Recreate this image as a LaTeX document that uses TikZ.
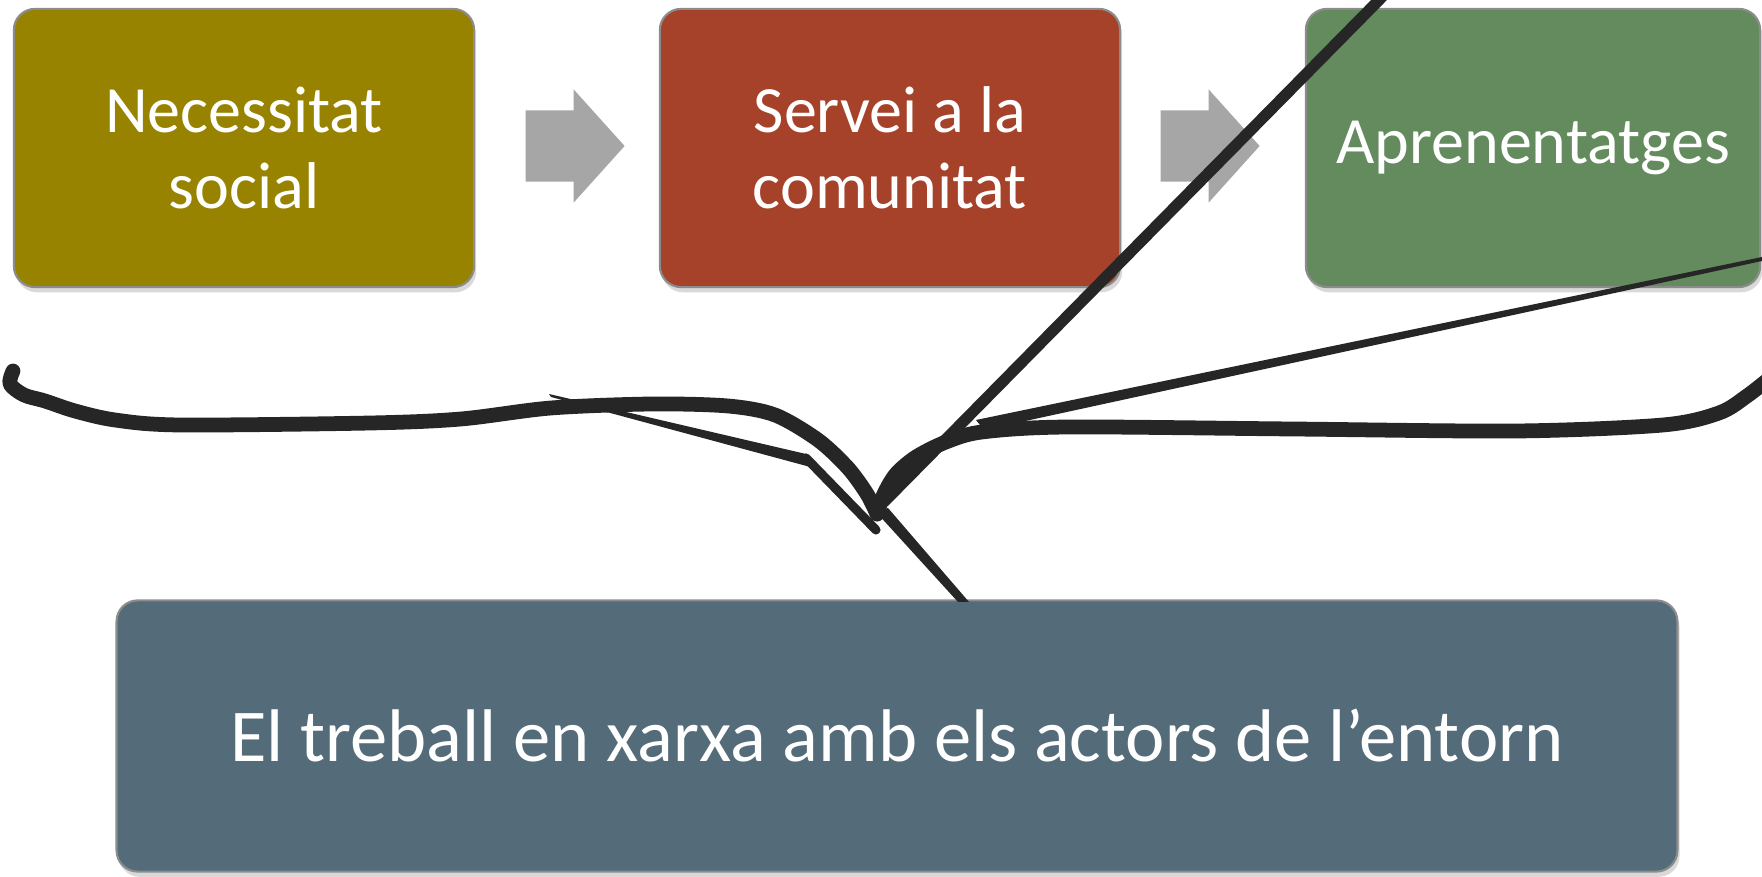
\documentclass[tikz,border=0pt]{standalone}
\usepackage{fontspec}
\setmainfont{Carlito}
\usetikzlibrary{shapes.arrows,shadows}
\definecolor{boxolive}{RGB}{152,131,0}
\definecolor{boxrust}{RGB}{166,66,42}
\definecolor{boxgreen}{RGB}{99,139,94}
\definecolor{boxslate}{RGB}{84,108,121}
\definecolor{arrowgray}{RGB}{166,166,166}
\definecolor{penblack}{RGB}{38,38,38}
\tikzset{
  stepbox/.style={draw=black!45, line width=0.6pt, rounded corners=6pt, text=white, align=center,
    minimum width=4.6cm, minimum height=2.78cm, font=\fontsize{18.8}{21.5}\selectfont,
    drop shadow={shadow xshift=0.6pt, shadow yshift=-1.5pt, opacity=0.3}},
  flowarrow/.style={single arrow, fill=arrowgray, draw=none, minimum height=0.99cm, minimum width=1.12cm,
    single arrow head extend=0.21cm, single arrow tip angle=96, inner xsep=0pt, inner ysep=0.35cm},
  pen/.style={penblack, line cap=round, line join=round}
}

\begin{document}
\begin{tikzpicture}[x=0.01cm, y=-0.01cm]
  \useasboundingbox (0,0) rectangle (1762,877);

  %% Steps
  \node[stepbox, fill=boxolive]                      (need)   at (244,148)  {Necessitat\\social};
  \node[stepbox, fill=boxrust]                       (serve)  at (890,148)  {Servei a la\\comunitat};
  \node[stepbox, fill=boxgreen, minimum width=4.54cm] (learn) at (1533,148) {Aprenentatges};

  %% Flow arrows
  \node[flowarrow] (arrowA) at (559,146)  {};
  \node[flowarrow] (arrowB) at (1194,146) {};

  %% Network box
  \node[stepbox, fill=boxslate, minimum width=15.6cm, minimum height=2.71cm, font=\fontsize{21.2}{25}\selectfont] (network) at (897,736) {El treball en xarxa amb els actors de l’entorn};

  %% Hand-drawn brace
  \draw[pen, line width=4.2pt] plot[smooth, tension=0.5] coordinates {
    (13,371) (10,384) (24,395) (45,401) (75,411) (115,420) (180,425) (371,423) (461,419)
    (551,408) (652,404) (728,406) (775,415) (818,440) (848,468) (867,494) (877,514)};
  \draw[pen, line width=4.2pt] plot[smooth, tension=0.5] coordinates {
    (877,514) (884,494) (896,474) (916,457) (946,442) (982,432) (1068,427) (1292,429)
    (1517,431) (1663,425) (1719,413) (1747,396) (1770,378)};

  %% Hand-drawn strokes
  \draw[pen, line width=3.2pt] (1384,-5) -- (884,502);
  \fill[penblack] (1762,257) -- (1762,261) -- (984,430) -- (976,420) -- cycle;
  \fill[penblack] (549,394) -- (551,397) -- (814,468) -- (806,454) -- cycle;
  \draw[pen, line width=2.6pt] (806,458) -- (876,530);
  \fill[penblack] (876,512) -- (888,508) -- (969,602) -- (958,602) -- cycle;
\end{tikzpicture}
\end{document}
